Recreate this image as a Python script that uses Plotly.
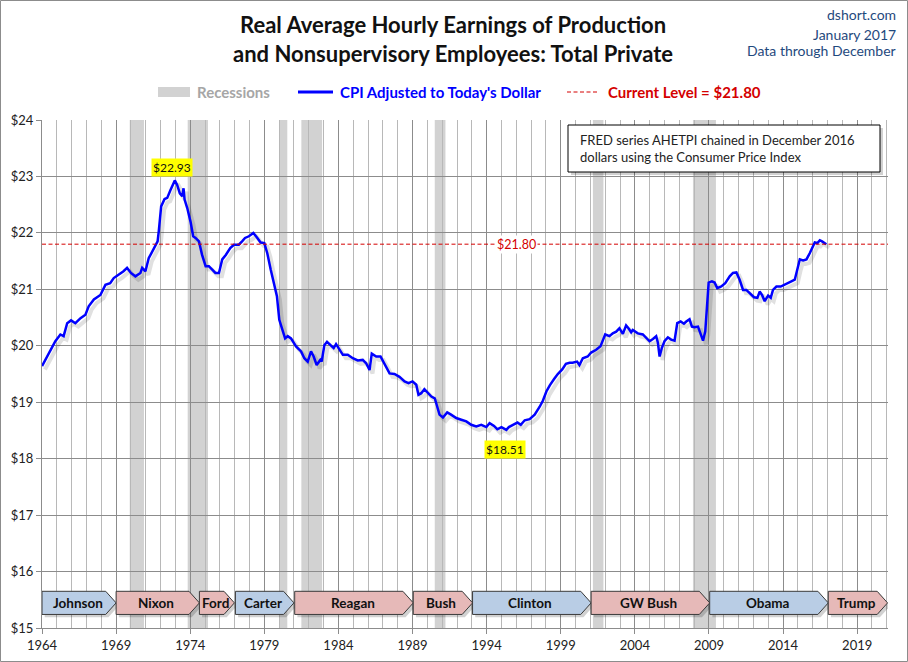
import plotly.graph_objects as go

# real average hourly earnings, Dec 2016 dollars
years = [
    1964.0, 1964.56, 1964.9, 1965.24, 1965.46, 1965.7, 1965.96, 1966.25, 1966.6, 1966.93,
    1967.15, 1967.5, 1967.94, 1968.28, 1968.6, 1968.84, 1969.18, 1969.5, 1969.74, 1970.0,
    1970.3, 1970.64, 1970.76, 1970.98, 1971.2, 1971.55, 1971.8, 1971.88, 1972.04, 1972.27,
    1972.45, 1972.67, 1972.83, 1972.96, 1973.12, 1973.3, 1973.46, 1973.55, 1973.62, 1973.8,
    1974.02, 1974.2, 1974.36, 1974.59, 1974.8, 1975.04, 1975.26, 1975.5, 1975.7, 1975.94,
    1976.16, 1976.4, 1976.7, 1976.95, 1977.28, 1977.5, 1977.7, 1977.96, 1978.26, 1978.53,
    1978.75, 1979.0, 1979.2, 1979.43, 1979.65, 1979.85, 1980.01, 1980.24, 1980.4, 1980.58,
    1980.8, 1981.14, 1981.48, 1981.7, 1981.93, 1982.15, 1982.33, 1982.53, 1982.78, 1982.87,
    1983.05, 1983.23, 1983.45, 1983.68, 1983.84, 1984.07, 1984.3, 1984.63, 1984.97, 1985.3,
    1985.64, 1985.87, 1986.1, 1986.25, 1986.55, 1986.84, 1987.1, 1987.45, 1987.78, 1988.12,
    1988.46, 1988.73, 1989.0, 1989.25, 1989.4, 1989.59, 1989.8, 1990.04, 1990.27, 1990.5,
    1990.64, 1990.82, 1991.05, 1991.34, 1991.6, 1991.95, 1992.29, 1992.63, 1992.96, 1993.3,
    1993.64, 1993.98, 1994.2, 1994.5, 1994.72, 1995.0, 1995.33, 1995.5, 1995.78, 1996.08,
    1996.3, 1996.57, 1996.9, 1997.24, 1997.58, 1997.8, 1998.03, 1998.26, 1998.55, 1998.8,
    1999.1, 1999.35, 1999.6, 1999.8, 2000.1, 2000.26, 2000.49, 2000.82, 2001.05, 2001.39,
    2001.68, 2002.0, 2002.29, 2002.51, 2002.74, 2002.96, 2003.19, 2003.41, 2003.57, 2003.75,
    2003.86, 2004.2, 2004.54, 2004.77, 2004.99, 2005.22, 2005.44, 2005.55, 2005.67, 2005.82,
    2006.0, 2006.23, 2006.45, 2006.68, 2006.86, 2007.09, 2007.31, 2007.47, 2007.69, 2007.85,
    2008.03, 2008.26, 2008.44, 2008.6, 2008.75, 2008.86, 2008.98, 2009.2, 2009.38, 2009.56,
    2009.83, 2010.1, 2010.4, 2010.62, 2010.85, 2011.07, 2011.3, 2011.52, 2011.75, 2012.04,
    2012.27, 2012.42, 2012.58, 2012.76, 2012.99, 2013.17, 2013.32, 2013.55, 2013.84, 2014.11,
    2014.34, 2014.56, 2014.79, 2014.97, 2015.13, 2015.35, 2015.58, 2015.8, 2015.96, 2016.14,
    2016.32, 2016.48, 2016.63, 2016.81, 2016.92,
]
earnings = [
    19.64, 19.93, 20.08, 20.20, 20.17, 20.40, 20.45, 20.40, 20.49, 20.55,
    20.70, 20.82, 20.90, 21.08, 21.11, 21.20, 21.26, 21.32, 21.38, 21.29,
    21.23, 21.29, 21.38, 21.32, 21.55, 21.73, 21.85, 22.03, 22.47, 22.60,
    22.62, 22.76, 22.85, 22.93, 22.85, 22.70, 22.65, 22.79, 22.59, 22.44,
    22.20, 21.94, 21.91, 21.85, 21.61, 21.41, 21.41, 21.35, 21.29, 21.29,
    21.53, 21.61, 21.73, 21.79, 21.79, 21.85, 21.91, 21.94, 22.00, 21.91,
    21.83, 21.82, 21.64, 21.35, 21.08, 20.88, 20.46, 20.28, 20.13, 20.17,
    20.13, 19.99, 19.90, 19.78, 19.72, 19.90, 19.81, 19.66, 19.75, 19.72,
    20.01, 20.07, 20.01, 19.96, 20.03, 19.93, 19.84, 19.84, 19.78, 19.74,
    19.75, 19.69, 19.57, 19.86, 19.81, 19.81, 19.69, 19.51, 19.50, 19.45,
    19.37, 19.34, 19.37, 19.31, 19.13, 19.16, 19.23, 19.16, 19.10, 19.07,
    18.92, 18.78, 18.73, 18.82, 18.78, 18.72, 18.69, 18.66, 18.60, 18.57,
    18.60, 18.56, 18.63, 18.58, 18.52, 18.56, 18.51, 18.56, 18.60, 18.64,
    18.60, 18.68, 18.70, 18.78, 18.92, 19.03, 19.19, 19.30, 19.41, 19.50,
    19.58, 19.68, 19.70, 19.70, 19.72, 19.66, 19.78, 19.81, 19.88, 19.93,
    19.99, 20.20, 20.17, 20.22, 20.25, 20.31, 20.21, 20.36, 20.31, 20.24,
    20.28, 20.22, 20.20, 20.14, 20.08, 20.12, 20.17, 20.06, 19.81, 19.96,
    20.08, 20.15, 20.11, 20.09, 20.40, 20.43, 20.39, 20.43, 20.47, 20.34,
    20.33, 20.34, 20.22, 20.09, 20.25, 20.76, 21.12, 21.14, 21.12, 21.02,
    21.05, 21.11, 21.23, 21.29, 21.30, 21.17, 20.99, 20.99, 20.93, 20.86,
    20.85, 20.96, 20.90, 20.79, 20.89, 20.85, 20.99, 21.05, 21.05, 21.08,
    21.11, 21.14, 21.17, 21.38, 21.53, 21.51, 21.53, 21.64, 21.73, 21.83,
    21.82, 21.87, 21.85, 21.82, 21.80,
]

current_level = 21.80
peak_year, peak_value = 1972.96, 22.93
trough_year, trough_value = 1995.33, 18.51

recession_start = [1969.92, 1973.83, 1980.0, 1981.5, 1990.5, 2001.17, 2007.92]
recession_end = [1970.88, 1975.2, 1980.55, 1982.9, 1991.22, 2001.88, 2009.47]

presidents = ["Johnson", "Nixon", "Ford", "Carter", "Reagan", "Bush",
              "Clinton", "GW Bush", "Obama", "Trump"]
term_start = [1964.0, 1969.0, 1974.62, 1977.05, 1981.05, 1989.05,
              1993.05, 2001.05, 2009.05, 2017.05]
term_end = [1969.0, 1974.62, 1976.98, 1981.0, 1989.05, 1993.05,
            2001.05, 2009.05, 2017.05, 2021.05]
party = ["D", "R", "R", "D", "R", "R", "D", "R", "D", "R"]

x_ticks = list(range(1964, 2020, 5))

FONT = "Lato"
W, H = 908, 662
ML, MR, MT, MB = 42, 20, 120, 34
PW, PH = W - ML - MR, H - MT - MB
RED = "#d40000"
NAVY = "#1f497d"
GRID = "#8c8c8c"


def px(x):
    return (x - ML) / PW


def py(y):
    return 1 - (y - MT) / PH


fig = go.Figure()

# soft shadow under the line
fig.add_trace(go.Scatter(
    x=[v + 0.2 for v in years], y=[v - 0.06 for v in earnings],
    mode="lines", line=dict(color="rgba(0,0,0,0.12)", width=4),
    hoverinfo="skip", showlegend=False))

fig.add_trace(go.Scatter(
    x=years, y=earnings, mode="lines",
    line=dict(color="#0000ff", width=2.5),
    name="CPI Adjusted to Today's Dollar", showlegend=False))

shapes = []
for s, e in zip(recession_start, recession_end):
    shapes.append(dict(type="rect", xref="x", yref="paper", x0=s, x1=e, y0=0, y1=1,
                       fillcolor="#d2d2d2", line=dict(width=0), layer="below"))

# current level
shapes.append(dict(type="line", xref="paper", yref="y", x0=0, x1=1,
                   y0=current_level, y1=current_level,
                   line=dict(color=RED, width=1, dash="4px,2.5px")))

# president arrows
y_lo, y_hi = 15.24, 15.65
y_mid = (y_lo + y_hi) / 2
tip = 0.7
for name, s, e, p in zip(presidents, term_start, term_end, party):
    fill = "#b9cde5" if p == "D" else "#e6b9b8"
    for dx, dy, col, lc in [(0.18, -0.05, "rgba(0,0,0,0.18)", "rgba(0,0,0,0)"),
                            (0, 0, fill, "#3a3a3a")]:
        path = (f"M {s+dx},{y_lo+dy} L {e-tip+dx},{y_lo+dy} L {e+dx},{y_mid+dy} "
                f"L {e-tip+dx},{y_hi+dy} L {s+dx},{y_hi+dy} Z")
        shapes.append(dict(type="path", xref="x", yref="y", path=path,
                           fillcolor=col, line=dict(color=lc, width=1), layer="above"))

# FRED note box + shadow
shapes.append(dict(type="rect", xref="paper", yref="paper",
                   x0=px(571), x1=px(883), y0=py(128), y1=py(175),
                   fillcolor="rgba(0,0,0,0.18)", line=dict(width=0)))
shapes.append(dict(type="rect", xref="paper", yref="paper",
                   x0=px(568), x1=px(880), y0=py(125), y1=py(172),
                   fillcolor="white", line=dict(color="black", width=1)))

# legend swatches
shapes.append(dict(type="rect", xref="paper", yref="paper",
                   x0=px(158), x1=px(190), y0=py(97), y1=py(87),
                   fillcolor="#d2d2d2", line=dict(width=0)))
shapes.append(dict(type="line", xref="paper", yref="paper",
                   x0=px(298), x1=px(333), y0=py(92), y1=py(92),
                   line=dict(color="#0000ff", width=3)))
shapes.append(dict(type="line", xref="paper", yref="paper",
                   x0=px(567), x1=px(598), y0=py(92), y1=py(92),
                   line=dict(color=RED, width=1, dash="4px,2.5px")))

# outer frame
shapes.append(dict(type="rect", xref="paper", yref="paper",
                   x0=px(0.5), x1=px(W - 0.5), y0=py(0.5), y1=py(H - 0.5),
                   line=dict(color="#8c8c8c", width=1), fillcolor="rgba(0,0,0,0)"))


def paper_text(x, y, text, size, color, anchor="left", bold=False):
    return dict(x=px(x), y=py(y), xref="paper", yref="paper", xanchor=anchor,
                yanchor="middle", align=anchor if anchor != "center" else "center",
                text=f"<b>{text}</b>" if bold else text, showarrow=False,
                font=dict(family=FONT, size=size, color=color))


annotations = []
for name, s, e in zip(presidents, term_start, term_end):
    annotations.append(dict(x=(s + e - 0.2) / 2, y=y_mid, xref="x", yref="y",
                            text=f"<b>{name}</b>", showarrow=False,
                            font=dict(family=FONT, size=13.5, color="#111")))

annotations += [
    dict(x=peak_year - 0.2, y=peak_value, xref="x", yref="y", text=f"${peak_value:.2f}",
         showarrow=False, yanchor="bottom", yshift=3, bgcolor="#ffff00", borderpad=1,
         font=dict(family=FONT, size=12, color="#111")),
    dict(x=trough_year - 0.1, y=trough_value, xref="x", yref="y", text=f"${trough_value:.2f}",
         showarrow=False, yanchor="top", yshift=-10, bgcolor="#ffff00", borderpad=1,
         font=dict(family=FONT, size=12, color="#111")),
    dict(x=1996.0, y=current_level, xref="x", yref="y", text=f"${current_level:.2f}",
         showarrow=False, bgcolor="white", borderpad=1,
         font=dict(family=FONT, size=12.5, color=RED)),
    paper_text(578, 148, "FRED series AHETPI chained in December 2016<br>"
                         "dollars using the Consumer Price Index", 13, "#222"),
    paper_text(453, 25, "Real Average Hourly Earnings of Production", 22, "#111",
               anchor="center", bold=True),
    paper_text(453, 53, "and Nonsupervisory Employees: Total Private", 22, "#111",
               anchor="center", bold=True),
    paper_text(898, 15, "dshort.com", 14, NAVY, anchor="right"),
    paper_text(898, 34, "January 2017", 14, NAVY, anchor="right"),
    paper_text(898, 50, "Data through December", 14, NAVY, anchor="right"),
    paper_text(195, 92, "Recessions", 15, "#a6a6a6", bold=True),
    paper_text(338, 92, "CPI Adjusted to Today's Dollar", 15, "#0000ff", bold=True),
    paper_text(606, 92, f"Current Level = ${current_level:.2f}", 15, RED, bold=True),
]

fig.update_layout(
    width=W, height=H,
    margin=dict(l=ML, r=MR, t=MT, b=MB),
    paper_bgcolor="white", plot_bgcolor="white",
    shapes=shapes, annotations=annotations, showlegend=False,
)

fig.update_xaxes(
    range=[1964, 2021.08], tickvals=x_ticks, ticktext=[str(t) for t in x_ticks],
    showgrid=True, gridcolor=GRID, gridwidth=1,
    minor=dict(dtick=1, tick0=1964, showgrid=True, gridcolor="#b8b8b8", ticks=""),
    ticks="outside", ticklen=5, tickcolor=GRID,
    showline=True, linecolor=GRID, zeroline=False, automargin=False,
    tickfont=dict(family=FONT, size=13, color="#222"),
)
fig.update_yaxes(
    range=[15, 24], dtick=1, tickprefix="$",
    showgrid=True, gridcolor=GRID,
    ticks="outside", ticklen=5, tickcolor=GRID,
    showline=True, linecolor=GRID, zeroline=False, automargin=False,
    tickfont=dict(family=FONT, size=13, color="#222"),
)

fig.write_html("out.html", config={"displayModeBar": False},
               post_script="document.body.style.margin='0';")
